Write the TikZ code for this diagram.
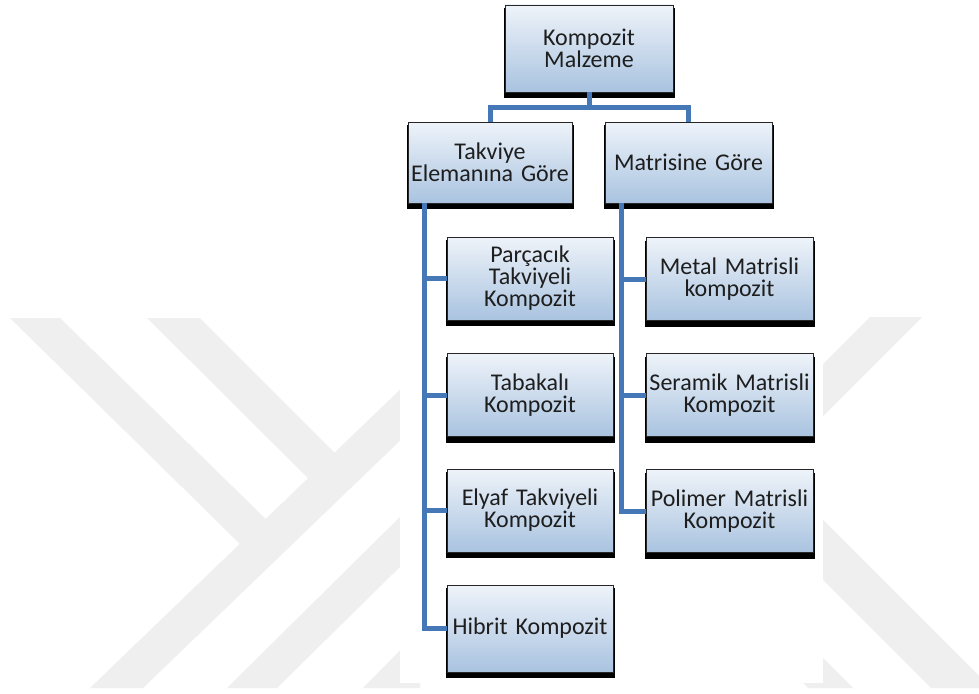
\documentclass[tikz,border=0pt]{standalone}
\usepackage{fontspec}
\setmainfont{Carlito}
\definecolor{wm}{HTML}{EFEFEF}
\definecolor{linkblue}{HTML}{4677B6}
\definecolor{boxtop}{HTML}{EEF3F9}
\definecolor{boxmid}{HTML}{C8D8EA}
\definecolor{boxbot}{HTML}{A9C3E0}
\definecolor{txt}{HTML}{1E1E1E}
\begin{document}
\begin{tikzpicture}[x=1pt,y=-1pt,
  box/.style={draw=black!85, line width=0.8pt,
    top color=boxtop, middle color=boxmid, bottom color=boxbot,
    align=center, text=txt, inner sep=0pt,
    font=\fontsize{24}{22}\selectfont,
    minimum height=83pt,
    preaction={draw=black, fill=black, line width=3pt, rounded corners=3pt,
      transform canvas={yshift=-4.5pt}}},
  conn/.style={draw=linkblue, line width=5pt}]
% canvas
\fill[white] (0,0) rectangle (979,693);
\useasboundingbox (0,0) rectangle (979,693);
% watermark
\fill[wm] (10,318) -- (60,318) -- (275,528) -- (240,544) -- cycle;
\fill[wm] (147,318) -- (200,318) -- (345,463) -- (315,485) -- cycle;
\fill[wm] (90,688) -- (143,688) -- (410,431) -- (410,380) -- cycle;
\fill[wm] (227,688) -- (277,688) -- (410,557) -- (410,507) -- cycle;
\fill[wm] (363,688) -- (420,688) -- (420,630) -- cycle;
\fill[wm] (870,317) -- (922,317) -- (815,424) -- (815,372) -- cycle;
\fill[wm] (815,512) -- (815,572) -- (931,688) -- (991,688) -- (991,688) -- cycle;
\fill[wm] (760,640) -- (805,640) -- (853,688) -- (808,688) -- cycle;
% white panel
\fill[white] (400,0) rectangle (823,683);
% nodes
\node[box, minimum width=168pt, minimum height=87pt, text width=168pt] (root) at (589,48.5) {Kompozit\\Malzeme};
\node[box, minimum width=164pt, minimum height=81pt, text width=164pt] (takv) at (490,162.5) {Takviye\\Elemanına Göre};
\node[box, minimum width=167pt, minimum height=81pt, text width=167pt] (matr) at (688.5,162.5) {Matrisine Göre};
\node[box, minimum width=166pt, text width=166pt] (parc) at (530,278.5) {Parçacık\\Takviyeli\\Kompozit};
\node[box, minimum width=166pt, text width=166pt] (taba) at (530,395) {Tabakalı\\Kompozit};
\node[box, minimum width=166pt, text width=166pt] (elyaf) at (530,510.5) {Elyaf Takviyeli\\Kompozit};
\node[box, minimum width=166pt, minimum height=87pt, text width=166pt] (hib) at (530,628.5) {Hibrit Kompozit};
\node[box, minimum width=167pt, text width=167pt] (metal) at (729.5,279) {Metal Matrisli\\kompozit};
\node[box, minimum width=167pt, text width=167pt] (seram) at (729.5,395) {Seramik Matrisli\\Kompozit};
\node[box, minimum width=167pt, text width=167pt] (polim) at (729.5,511) {Polimer Matrisli\\Kompozit};
% connectors
\coordinate (bar) at (0,107);
\draw[conn] (root.south) -- (root.south |- bar);
\draw[conn] (takv.north) -- (takv.north |- bar) -- (matr.north |- bar) -- (matr.north);
\coordinate (lt) at ([xshift=17pt]takv.south west);
\coordinate (rt) at ([xshift=17pt]matr.south west);
\draw[conn] (lt) |- (hib.west);
\foreach \n in {parc,taba,elyaf} \draw[conn] (lt |- \n.west) -- (\n.west);
\draw[conn] (rt) |- (polim.west);
\foreach \n in {metal,seram} \draw[conn] (rt |- \n.west) -- (\n.west);
\end{tikzpicture}
\end{document}
